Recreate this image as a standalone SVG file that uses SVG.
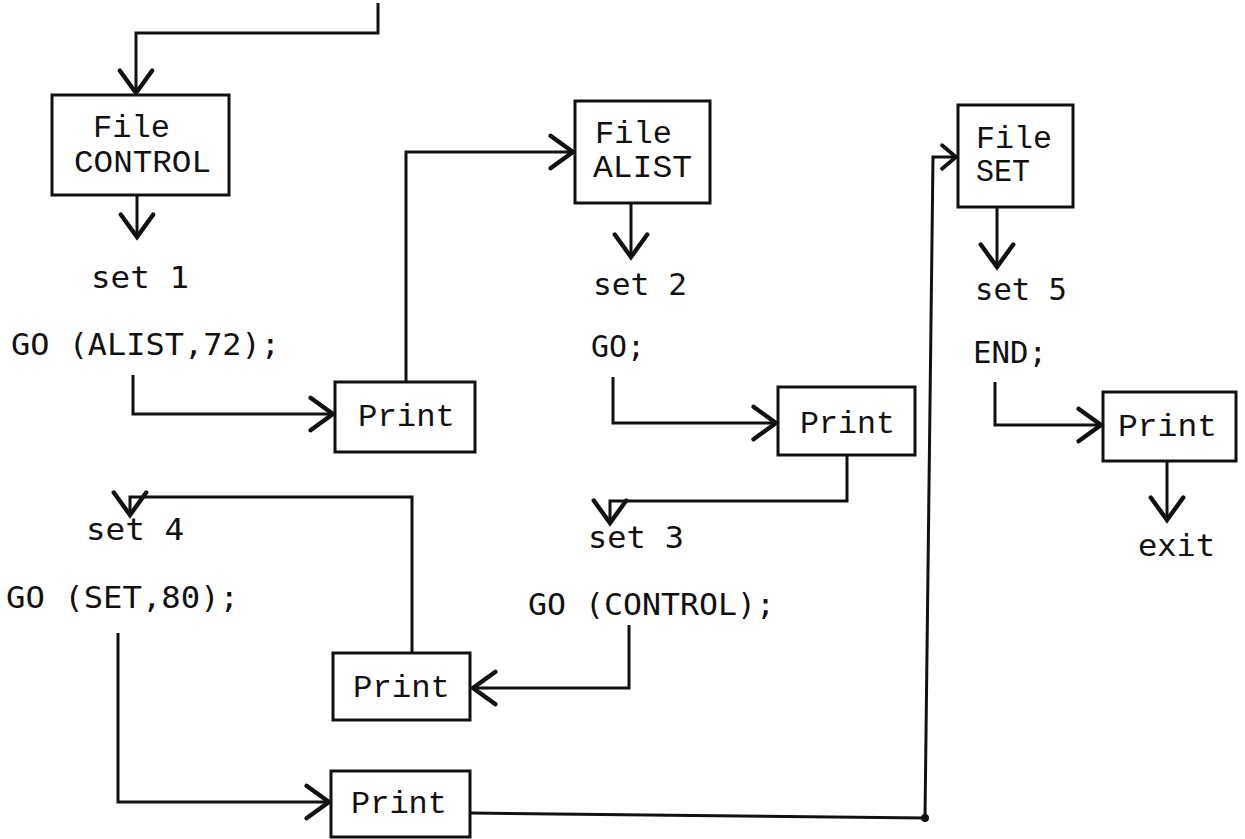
<svg xmlns="http://www.w3.org/2000/svg" width="1245" height="839" viewBox="0 0 1245 839">
<style>
.bg{fill:#ffffff}
.box{fill:none;stroke:#111;stroke-width:3}
.ln{fill:none;stroke:#111;stroke-width:3;stroke-linejoin:miter}
.bt{font-family:"Liberation Mono","DejaVu Sans Mono",monospace;font-size:31px;fill:#111}
.ct{font-family:"DejaVu Sans Mono","Liberation Mono",monospace;font-size:30px;fill:#111}
</style>
<defs>
<marker id="v" markerUnits="userSpaceOnUse" markerWidth="40" markerHeight="40" viewBox="-22 -16 26 32" refX="0" refY="0" orient="auto">
<path d="M -18 -13 L 0 0 L -18 13" fill="none" stroke="#111" stroke-width="3.5" stroke-linecap="round" stroke-linejoin="miter"/>
</marker>
<marker id="vs" markerUnits="userSpaceOnUse" markerWidth="30" markerHeight="30" viewBox="-16 -14 20 28" refX="0" refY="0" orient="auto">
<path d="M -13 -11 L 0 0 L -13 11" fill="none" stroke="#111" stroke-width="3.5" stroke-linecap="round" stroke-linejoin="miter"/>
</marker>
</defs>
<rect class="bg" x="0" y="0" width="1245" height="839"/>

<g id="connectors">
<path class="ln" d="M378 3 V33 H136 V93" marker-end="url(#v)"/>
<path class="ln" d="M137 196 V237" marker-end="url(#v)"/>
<path class="ln" d="M133 375 V414 H333" marker-end="url(#v)"/>
<path class="ln" d="M406 382 V152 H573" marker-end="url(#v)"/>
<path class="ln" d="M631 204 V257" marker-end="url(#v)"/>
<path class="ln" d="M613 377 V423 H776" marker-end="url(#v)"/>
<path class="ln" d="M847 456 V501 H610 V523" marker-end="url(#v)"/>
<path class="ln" d="M629 625 V688 H473" marker-end="url(#v)"/>
<path class="ln" d="M412 653 V497 H130 V515" marker-end="url(#v)"/>
<path class="ln" d="M118 633 V802 H329" marker-end="url(#v)"/>
<path class="ln" d="M471 813 L925 818 L933 157 H956" marker-end="url(#vs)"/>
<circle cx="925" cy="818" r="4" fill="#111"/>
<path class="ln" d="M997 208 V267" marker-end="url(#v)"/>
<path class="ln" d="M995 382 V425 H1101" marker-end="url(#v)"/>
<path class="ln" d="M1167 462 V520" marker-end="url(#v)"/>
</g>

<g id="file-control">
<rect class="box" x="52" y="95" width="177" height="100"/>
<text class="bt" x="93" y="137" textLength="77" lengthAdjust="spacingAndGlyphs">File</text>
<text class="bt" x="74" y="172" textLength="137" lengthAdjust="spacingAndGlyphs">CONTROL</text>
</g>

<g id="set1">
<text class="ct" x="91" y="288" textLength="98" lengthAdjust="spacingAndGlyphs">set 1</text>
<text class="ct" x="11" y="355" textLength="269" lengthAdjust="spacingAndGlyphs">GO (ALIST,72);</text>
</g>

<g id="print1">
<rect class="box" x="335" y="382" width="140" height="70"/>
<text class="bt" x="358" y="426" textLength="97" lengthAdjust="spacingAndGlyphs">Print</text>
</g>

<g id="file-alist">
<rect class="box" x="575" y="101" width="135" height="102"/>
<text class="bt" x="595" y="143" textLength="77" lengthAdjust="spacingAndGlyphs">File</text>
<text class="bt" x="593" y="177" textLength="99" lengthAdjust="spacingAndGlyphs">ALIST</text>
</g>

<g id="set2">
<text class="ct" x="593" y="295" textLength="94" lengthAdjust="spacingAndGlyphs">set 2</text>
<text class="ct" x="591" y="357" textLength="54" lengthAdjust="spacingAndGlyphs">GO;</text>
</g>

<g id="print2">
<rect class="box" x="778" y="387" width="137" height="68"/>
<text class="bt" x="800" y="433" textLength="95" lengthAdjust="spacingAndGlyphs">Print</text>
</g>

<g id="set3">
<text class="ct" x="588" y="548" textLength="96" lengthAdjust="spacingAndGlyphs">set 3</text>
<text class="ct" x="528" y="615" textLength="247" lengthAdjust="spacingAndGlyphs">GO (CONTROL);</text>
</g>

<g id="print3">
<rect class="box" x="333" y="653" width="137" height="67"/>
<text class="bt" x="353" y="697" textLength="97" lengthAdjust="spacingAndGlyphs">Print</text>
</g>

<g id="set4">
<text class="ct" x="86" y="540" textLength="98" lengthAdjust="spacingAndGlyphs">set 4</text>
<text class="ct" x="6" y="608" textLength="233" lengthAdjust="spacingAndGlyphs">GO (SET,80);</text>
</g>

<g id="print4">
<rect class="box" x="331" y="771" width="139" height="66"/>
<text class="bt" x="351" y="813" textLength="96" lengthAdjust="spacingAndGlyphs">Print</text>
</g>

<g id="file-set">
<rect class="box" x="958" y="105" width="115" height="102"/>
<text class="bt" x="976" y="148" textLength="76" lengthAdjust="spacingAndGlyphs">File</text>
<text class="bt" x="976" y="181" textLength="54" lengthAdjust="spacingAndGlyphs">SET</text>
</g>

<g id="set5">
<text class="ct" x="975" y="300" textLength="92" lengthAdjust="spacingAndGlyphs">set 5</text>
<text class="ct" x="973" y="363" textLength="74" lengthAdjust="spacingAndGlyphs">END;</text>
</g>

<g id="print5">
<rect class="box" x="1103" y="392" width="133" height="69"/>
<text class="bt" x="1118" y="436" textLength="99" lengthAdjust="spacingAndGlyphs">Print</text>
</g>

<g id="exit">
<text class="ct" x="1138" y="556" textLength="77" lengthAdjust="spacingAndGlyphs">exit</text>
</g>
</svg>
